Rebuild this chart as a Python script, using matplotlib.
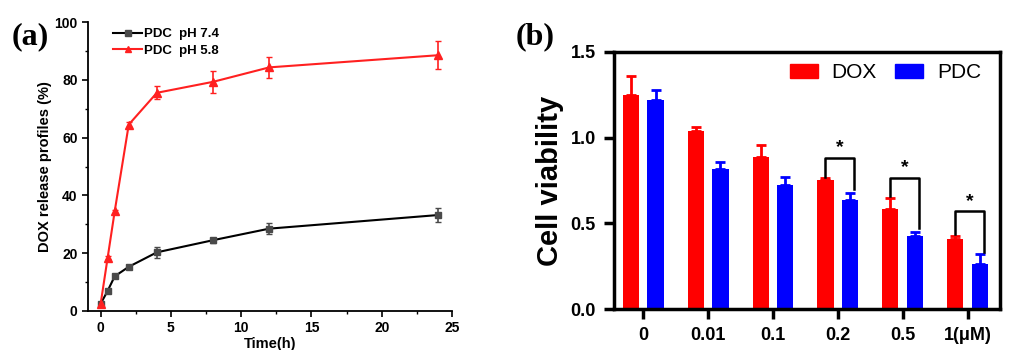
import numpy as np
import matplotlib
matplotlib.use('Agg')
import matplotlib.pyplot as plt
from matplotlib.ticker import MultipleLocator
from matplotlib.patches import Patch
from matplotlib.lines import Line2D

plt.rcParams['font.family'] = ['Liberation Sans', 'DejaVu Sans']

## panel (a): release profiles
time_h = [0, 0.5, 1, 2, 4, 8, 12, 24]
ph74 = [2.5, 7.0, 12.0, 15.3, 20.3, 24.5, 28.5, 33.2]
ph74_err = [0.5, 0.5, 0.6, 0.6, 2.0, 0.8, 2.0, 2.5]
ph58 = [2.5, 18.5, 34.5, 64.5, 75.5, 79.3, 84.3, 88.5]
ph58_err = [0.5, 0.5, 0.6, 1.0, 2.3, 3.7, 3.7, 4.8]

## panel (b): cell viability
doses = ['0', '0.01', '0.1', '0.2', '0.5', '1(\u03bcM)']
dox = [1.25, 1.04, 0.885, 0.755, 0.585, 0.41]
dox_err = [0.11, 0.025, 0.07, 0.01, 0.065, 0.015]
pdc = [1.22, 0.82, 0.725, 0.635, 0.425, 0.26]
pdc_err = [0.06, 0.04, 0.045, 0.04, 0.025, 0.06]
# significance brackets: group index, top, left foot, right foot
sig_groups = [3, 4, 5]
sig_top = [0.88, 0.765, 0.57]
sig_left = [0.77, 0.66, 0.435]
sig_right = [0.70, 0.475, 0.33]

fig = plt.figure(figsize=(10.24, 3.5), dpi=100, facecolor='white')

# ---------------- (a)
ax1 = fig.add_axes([88/1024, 1 - 311/350, (452-88)/1024, (311-22)/350])
ax1.errorbar(time_h, ph74, yerr=ph74_err, color='black', lw=1.5, marker='s', ms=5,
             mfc='#4a4a4a', mec='#4a4a4a', ecolor='#4a4a4a', elinewidth=1.2, capsize=2.5)
ax1.errorbar(time_h, ph58, yerr=ph58_err, color='#ff2020', lw=1.5, marker='^', ms=6,
             mfc='#ff2020', mec='#ff2020', ecolor='#ff2020', elinewidth=1.2, capsize=2.5)
ax1.set_xlim(-0.9, 25)
ax1.set_ylim(0, 100)
ax1.xaxis.set_major_locator(MultipleLocator(5))
ax1.xaxis.set_minor_locator(MultipleLocator(2.5))
ax1.yaxis.set_major_locator(MultipleLocator(20))
ax1.yaxis.set_minor_locator(MultipleLocator(10))
for s in ['top', 'right']:
    ax1.spines[s].set_visible(False)
for s in ['left', 'bottom']:
    ax1.spines[s].set_linewidth(1.3)
ax1.tick_params(which='major', length=4, width=1.2, labelsize=10)
ax1.tick_params(which='minor', length=2.5, width=1.0)
for lab in ax1.get_xticklabels() + ax1.get_yticklabels():
    lab.set_fontweight('bold')
ax1.set_xlabel('Time(h)', fontsize=10.5, fontweight='bold', labelpad=1)
ax1.set_ylabel('DOX release profiles (%)', fontsize=10.5, fontweight='bold', labelpad=2)
h1 = Line2D([], [], color='black', lw=1.5, marker='s', ms=4, mfc='#4a4a4a', mec='#4a4a4a')
h2 = Line2D([], [], color='#ff2020', lw=1.5, marker='^', ms=5, mfc='#ff2020', mec='#ff2020')
ax1.legend([h1, h2], ['PDC  pH 7.4', 'PDC  pH 5.8'], loc='upper left',
           bbox_to_anchor=(0.037, 1.02), frameon=False,
           prop={'weight': 'bold', 'size': 9.5}, handlelength=2.2,
           handletextpad=0.1, labelspacing=0.3)
fig.text(12/1024, 1 - 37/350, '(a)', fontsize=23, fontweight='bold',
         family='Liberation Serif', va='center', ha='left')

# ---------------- (b)
ax2 = fig.add_axes([614/1024, 1 - 309/350, (1000-614)/1024, (309-52)/350])
x = np.arange(len(doses))
off = 0.19
w = 0.25
ax2.bar(x - off, dox, w, color='#ff0000')
ax2.bar(x + off, pdc, w, color='#0000ff')
ax2.errorbar(x - off, dox, yerr=[np.zeros(len(dox)), dox_err], fmt='none',
             ecolor='#ff0000', elinewidth=2, capsize=3.5, capthick=2)
ax2.errorbar(x + off, pdc, yerr=[np.zeros(len(pdc)), pdc_err], fmt='none',
             ecolor='#0000ff', elinewidth=2, capsize=3.5, capthick=2)
for g, top, lf, rf in zip(sig_groups, sig_top, sig_left, sig_right):
    xl = g - off
    xr = g + off + 0.06
    ax2.plot([xl, xl, xr, xr], [lf, top, top, rf], color='black', lw=1.8)
    ax2.text((xl + xr) / 2, top + 0.01, '*', ha='center', va='bottom',
             fontsize=14, fontweight='bold')
ax2.set_xlim(-0.45, 5.5)
ax2.set_ylim(0, 1.5)
ax2.yaxis.set_major_locator(MultipleLocator(0.5))
ax2.set_xticks(x)
ax2.set_xticklabels(doses)
for s in ax2.spines.values():
    s.set_linewidth(2.5)
ax2.tick_params(axis='both', length=7, width=2.5, labelsize=13, pad=6)
for lab in ax2.get_xticklabels() + ax2.get_yticklabels():
    lab.set_fontweight('bold')
ax2.set_ylabel('Cell viability', fontsize=21, fontweight='bold', labelpad=5)
ax2.legend(handles=[Patch(color='#ff0000', label='DOX'), Patch(color='#0000ff', label='PDC')],
           loc='upper right', ncol=2, frameon=False, fontsize=15,
           handlelength=1.35, handleheight=0.63, columnspacing=0.87,
           handletextpad=0.67, bbox_to_anchor=(1.0, 1.03))
fig.text(516/1024, 1 - 37/350, '(b)', fontsize=23, fontweight='bold',
         family='Liberation Serif', va='center', ha='left')

fig.savefig('out.png', dpi=100)
